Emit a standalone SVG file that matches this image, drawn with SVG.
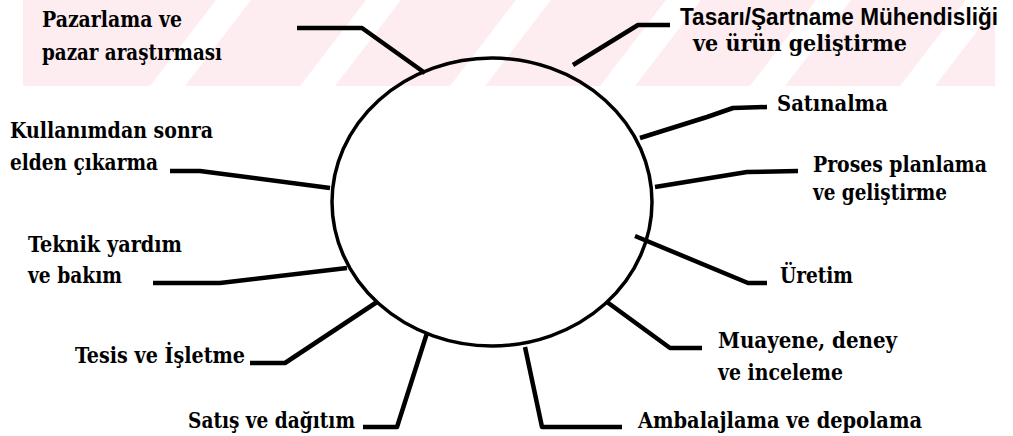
<svg xmlns="http://www.w3.org/2000/svg" width="1013" height="436" viewBox="0 0 1013 436">
<style>
.lbl{font-family:"DejaVu Serif Condensed","DejaVu Serif","Liberation Serif",serif;font-weight:bold;font-size:22px;fill:#000;}
.narrow{font-family:"Liberation Sans Narrow","Liberation Sans",sans-serif;font-size:23px;}
.con{fill:none;stroke:#000;stroke-width:4.5;stroke-linejoin:round;stroke-linecap:butt;}
.wm{fill:#fff;}
</style>
<rect width="1013" height="436" fill="#fff"/>
<g id="watermark">
<rect x="23" y="0" width="972" height="86" fill="#fdedf0"/>
<polygon class="wm" points="150,86 185,86 251,0 216,0"/>
<polygon class="wm" points="300,86 335,86 401,0 366,0"/>
<polygon class="wm" points="450,86 485,86 551,0 516,0"/>
<polygon class="wm" points="600,86 635,86 701,0 666,0"/>
<polygon class="wm" points="750,86 785,86 851,0 816,0"/>
<polygon class="wm" points="900,86 935,86 1001,0 966,0"/>
</g>
<g id="connectors">
<polyline class="con" points="297,28 362,28 425,73"/>
<polyline class="con" points="573,65 638,25 670,25"/>
<polyline class="con" points="640,138 707,117 733,108 767,107"/>
<polyline class="con" points="655,187 747,172 798,171"/>
<polyline class="con" points="635,236 748,283 767,283"/>
<polyline class="con" points="607,302 670,348 702,348"/>
<polyline class="con" points="525,347 542,427 622,427"/>
<polyline class="con" points="427,333 397,427 363,427"/>
<polyline class="con" points="377,302 285,363 250,363"/>
<polyline class="con" points="347,268 220,283 153,283"/>
<polyline class="con" points="330,188 200,171 170,171"/>
</g>
<g id="center">
<ellipse cx="492" cy="202" rx="160" ry="144" fill="none" stroke="#000" stroke-width="3.5"/>
</g>
<g id="n-pazarlama"><text class="lbl" x="42" y="27" textLength="140" lengthAdjust="spacingAndGlyphs">Pazarlama ve</text><text class="lbl" x="42" y="60" textLength="180" lengthAdjust="spacingAndGlyphs">pazar araştırması</text></g>
<g id="n-tasarim"><text class="lbl narrow" x="680" y="25" textLength="318" lengthAdjust="spacingAndGlyphs">Tasarı/Şartname Mühendisliği</text><text class="lbl" x="693" y="51" textLength="214" lengthAdjust="spacingAndGlyphs">ve ürün geliştirme</text></g>
<g id="n-satinalma"><text class="lbl" x="777" y="111" textLength="111" lengthAdjust="spacingAndGlyphs">Satınalma</text></g>
<g id="n-proses"><text class="lbl" x="813" y="172" textLength="174" lengthAdjust="spacingAndGlyphs">Proses planlama</text><text class="lbl" x="813" y="200" textLength="134" lengthAdjust="spacingAndGlyphs">ve geliştirme</text></g>
<g id="n-uretim"><text class="lbl" x="780" y="283" textLength="73" lengthAdjust="spacingAndGlyphs">Üretim</text></g>
<g id="n-muayene"><text class="lbl" x="718" y="348" textLength="179" lengthAdjust="spacingAndGlyphs">Muayene, deney</text><text class="lbl" x="718" y="380" textLength="125" lengthAdjust="spacingAndGlyphs">ve inceleme</text></g>
<g id="n-ambalaj"><text class="lbl" x="638" y="428" textLength="284" lengthAdjust="spacingAndGlyphs">Ambalajlama ve depolama</text></g>
<g id="n-satis"><text class="lbl" x="188" y="428" textLength="167" lengthAdjust="spacingAndGlyphs">Satış ve dağıtım</text></g>
<g id="n-tesis"><text class="lbl" x="75" y="363" textLength="170" lengthAdjust="spacingAndGlyphs">Tesis ve İşletme</text></g>
<g id="n-teknik"><text class="lbl" x="28" y="252" textLength="154" lengthAdjust="spacingAndGlyphs">Teknik yardım</text><text class="lbl" x="28" y="283" textLength="94" lengthAdjust="spacingAndGlyphs">ve bakım</text></g>
<g id="n-kullanim"><text class="lbl" x="10" y="138" textLength="203" lengthAdjust="spacingAndGlyphs">Kullanımdan sonra</text><text class="lbl" x="10" y="170" textLength="148" lengthAdjust="spacingAndGlyphs">elden çıkarma</text></g>
</svg>
